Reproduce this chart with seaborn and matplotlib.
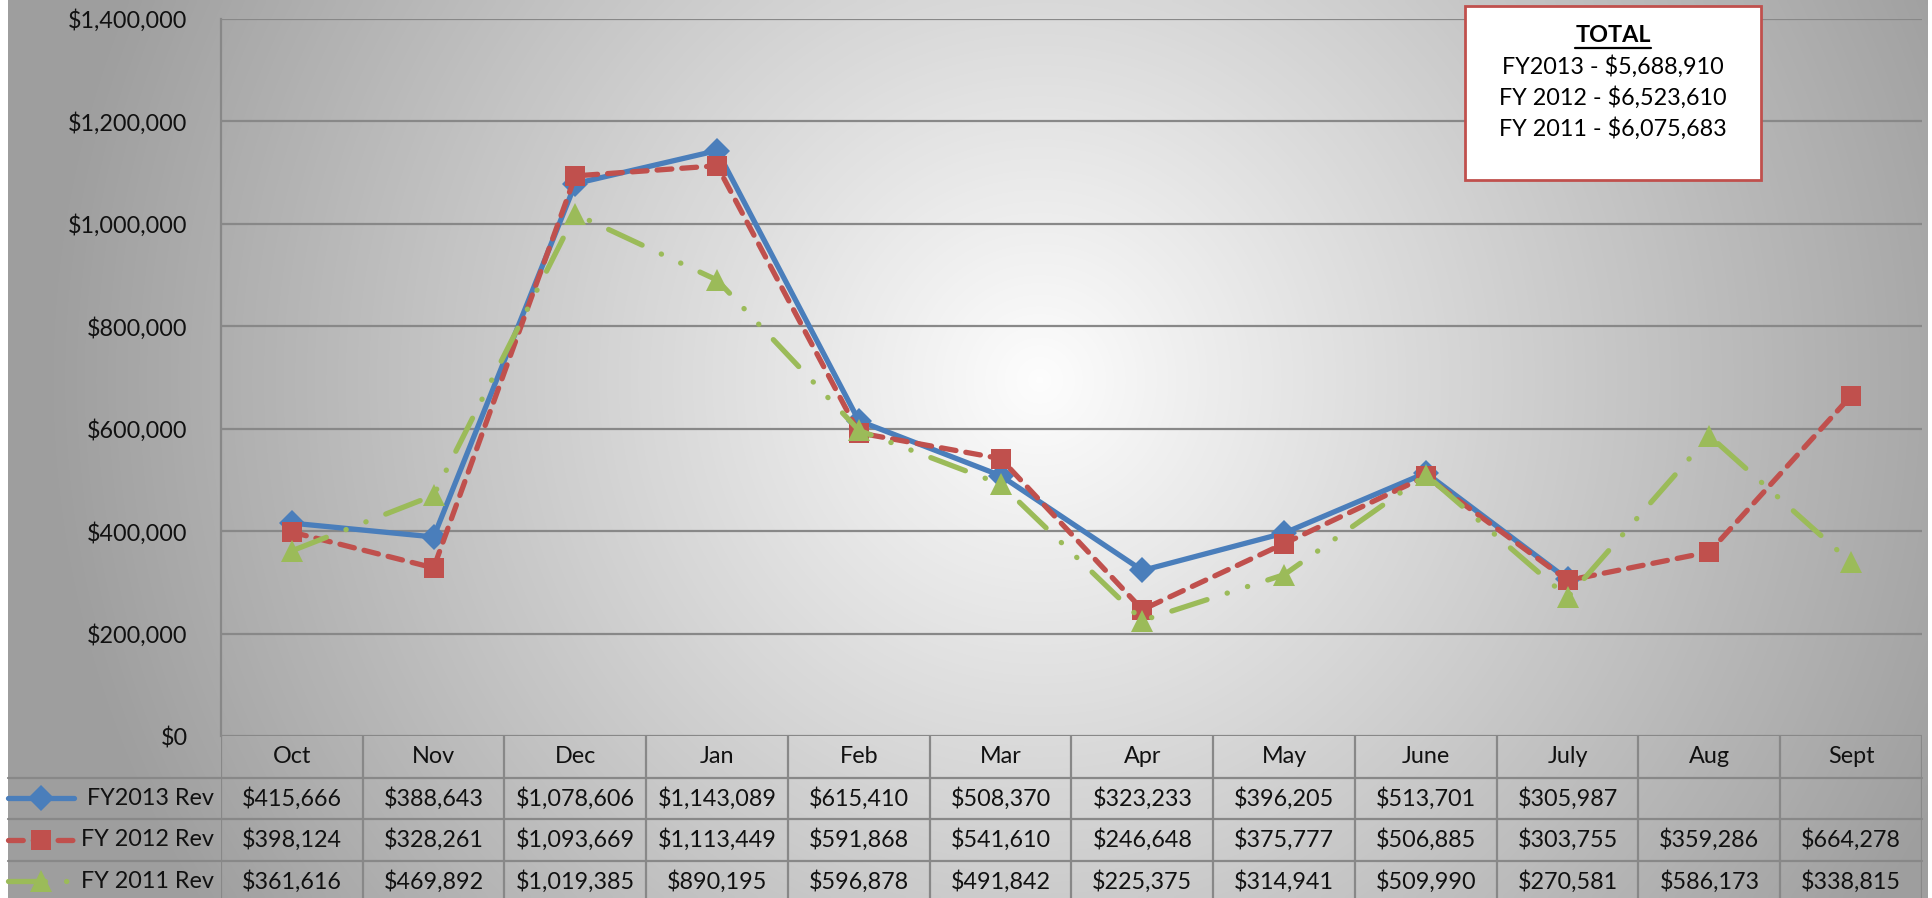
import numpy as np
import pandas as pd
import matplotlib.pyplot as plt
import matplotlib.transforms as mtransforms
from matplotlib.colors import LinearSegmentedColormap
from matplotlib.lines import Line2D
from matplotlib.patches import Rectangle
from matplotlib.ticker import FuncFormatter
import seaborn as sns


# ------------------------------------------------------------------ #
# Data
# ------------------------------------------------------------------ #

months = ["Oct", "Nov", "Dec", "Jan", "Feb", "Mar",
          "Apr", "May", "June", "July", "Aug", "Sept"]

fy2013 = [415666, 388643, 1078606, 1143089, 615410, 508370,
          323233, 396205, 513701, 305987, np.nan, np.nan]
fy2012 = [398124, 328261, 1093669, 1113449, 591868, 541610,
          246648, 375777, 506885, 303755, 359286, 664278]
fy2011 = [361616, 469892, 1019385, 890195, 596878, 491842,
          225375, 314941, 509990, 270581, 586173, 338815]

series_names = ["FY2013 Rev", "FY 2012 Rev", "FY 2011 Rev"]
series_vals  = [fy2013, fy2012, fy2011]

totals_title = "TOTAL"
totals_lines = ["FY2013 - $5,688,910", "FY 2012 - $6,523,610", "FY 2011 - $6,075,683"]

y_ticks = [0, 200000, 400000, 600000, 800000, 1000000, 1200000, 1400000]

# line styles per series
styles = {
    "FY2013 Rev":  dict(color="#4A7EBB", marker="D", markersize=13, linestyle="-"),
    "FY 2012 Rev": dict(color="#C0504D", marker="s", markersize=15,
                        linestyle=(0, (2.8, 1.9))),
    "FY 2011 Rev": dict(color="#9BBB59", marker="^", markersize=16,
                        linestyle=(0, (7.0, 4.0, 0.05, 4.0, 0.05, 4.0))),
}
lw = 3.8

# ------------------------------------------------------------------ #
# Figure setup
# ------------------------------------------------------------------ #

sns.set_style("white")
plt.rcParams["font.family"] = ["Lato", "DejaVu Sans"]

W, H = 1933, 898
fig = plt.figure(figsize=(W / 100, H / 100), dpi=100)
fig.patch.set_facecolor("white")

# radial grey background
bg = fig.add_axes([8 / W, 0, 1920 / W, 1], zorder=-10)
gx, gy = np.meshgrid(np.linspace(8, 1928, 480), np.linspace(0, H, 225))
t = np.sqrt(((gx - 1040) / 1000) ** 2 + ((gy - 380) / 1000) ** 2)
t = np.clip(t, 0, 1)
cmap = LinearSegmentedColormap.from_list("bg", ["#fdfdfd", "#9e9e9e"])
bg.imshow(t, cmap=cmap, aspect="auto", extent=[0, 1, 0, 1],
          origin="upper", vmin=0, vmax=1, interpolation="bilinear")
bg.axis("off")

grid_col = "#888888"

# main plot axes
ax = fig.add_axes([221 / W, 1 - 736 / H, 1701 / W, 717 / H], zorder=1)
ax.patch.set_alpha(0)

df = pd.DataFrame({"idx": np.arange(len(months))})
for name, vals in zip(series_names, series_vals):
    df[name] = vals

for name in series_names:
    st = styles[name]
    sns.lineplot(data=df, x="idx", y=name, ax=ax, errorbar=None,
                 color=st["color"], marker=st["marker"],
                 markersize=st["markersize"], markeredgewidth=0,
                 linestyle=st["linestyle"], linewidth=lw,
                 dash_capstyle="round", solid_capstyle="round",
                 solid_joinstyle="round")

ax.set_xlim(-0.5, len(months) - 0.5)
ax.set_ylim(0, 1400000)
ax.set_yticks(y_ticks)
ax.yaxis.set_major_formatter(FuncFormatter(lambda v, _: f"${v:,.0f}"))
ax.set_xticks([])
ax.set(xlabel="", ylabel="")
ax.tick_params(axis="y", length=0, pad=24, labelsize=16.8, labelcolor="#111111")
ax.yaxis.grid(True, color=grid_col, linewidth=1.6)
ax.set_axisbelow(True)
for side in ["top", "right", "bottom"]:
    ax.spines[side].set_visible(False)
ax.spines["left"].set_color(grid_col)
ax.spines["left"].set_linewidth(1.6)

# ------------------------------------------------------------------ #
# Data table under the plot
# ------------------------------------------------------------------ #

row_h = 41.5
tab = fig.add_axes([221 / W, 1 - (736 + 4 * row_h) / H, 1701 / W, 4 * row_h / H],
                   sharex=ax, zorder=1)
tab.set_ylim(4, 0)
tab.axis("off")

tab.vlines(np.arange(len(months) + 1) - 0.5, 0, 4, color=grid_col, linewidth=1.6)
blend = mtransforms.blended_transform_factory(fig.transFigure, tab.transData)
for r in [1, 2, 3]:
    tab.add_line(Line2D([8 / W, 1922 / W], [r, r], transform=blend,
                        color=grid_col, linewidth=1.6, clip_on=False))

fs = 16.8
for i, m in enumerate(months):
    tab.text(i, 0.5, m, ha="center", va="center", fontsize=fs, color="#111111")

for r, (name, vals) in enumerate(zip(series_names, series_vals)):
    yc = r + 1.5
    for i, v in enumerate(vals):
        if not np.isnan(v):
            tab.text(i, yc, f"${v:,.0f}", ha="center", va="center",
                     fontsize=fs, color="#111111")
    # row label with legend key
    tab.text(214 / W, yc, name, transform=blend, ha="right", va="center",
             fontsize=fs, color="#111111")
    st = styles[name]
    tab.add_line(Line2D([8 / W, 74 / W], [yc, yc], transform=blend,
                        color=st["color"], linestyle=st["linestyle"],
                        linewidth=lw, dash_capstyle="round",
                        solid_capstyle="round", clip_on=False))
    tab.add_line(Line2D([41 / W], [yc], transform=blend, color=st["color"],
                        marker=st["marker"], markersize=st["markersize"],
                        markeredgewidth=0, linestyle="none", clip_on=False))

# ------------------------------------------------------------------ #
# Totals box
# ------------------------------------------------------------------ #

box = Rectangle((1465 / W, 1 - 180 / H), 296 / W, 174 / H,
                transform=fig.transFigure, facecolor="white",
                edgecolor="#C0504D", linewidth=2, zorder=5)
fig.add_artist(box)
cx = 1613 / W
title = fig.text(cx, 1 - 35 / H, totals_title, ha="center", va="center",
                 fontsize=fs, fontweight="bold", color="black", zorder=6)
for k, line in enumerate(totals_lines):
    fig.text(cx, 1 - (67 + 31 * k) / H, line, ha="center", va="center",
             fontsize=fs, color="black", zorder=6)

fig.canvas.draw()
bb = title.get_window_extent().transformed(fig.transFigure.inverted())
fig.add_artist(Line2D([bb.x0, bb.x1], [bb.y0 - 2 / H, bb.y0 - 2 / H],
                      transform=fig.transFigure, color="black",
                      linewidth=1.6, zorder=6))

fig.savefig("out.png", dpi=100)
